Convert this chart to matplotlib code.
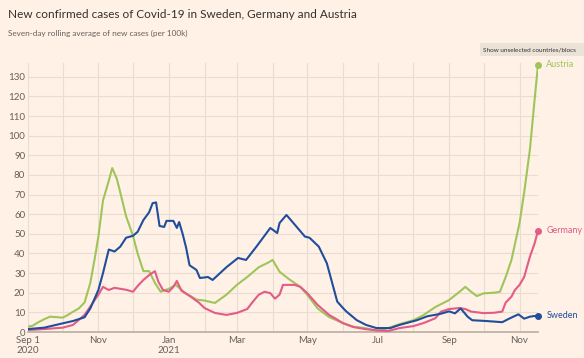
import numpy as np
import pandas as pd
import matplotlib
matplotlib.use("Agg")
import matplotlib.pyplot as plt
import matplotlib.dates as mdates
from matplotlib.patches import Rectangle

plt.rcParams['font.family'] = ['Lato', 'DejaVu Sans']

# Austria - seven-day average per 100k
austria_dates = ['2020-09-01', '2020-09-05', '2020-09-10', '2020-09-15', '2020-09-20', '2020-09-25',
                 '2020-10-01', '2020-10-05', '2020-10-10', '2020-10-15', '2020-10-20', '2020-10-25',
                 '2020-10-29', '2020-11-01', '2020-11-05', '2020-11-10', '2020-11-13', '2020-11-17',
                 '2020-11-20', '2020-11-25', '2020-12-01', '2020-12-05', '2020-12-10', '2020-12-15',
                 '2020-12-20', '2020-12-25', '2021-01-01', '2021-01-07', '2021-01-15', '2021-01-25',
                 '2021-02-01', '2021-02-10', '2021-02-20', '2021-03-01', '2021-03-10', '2021-03-20',
                 '2021-03-28', '2021-04-01', '2021-04-07', '2021-04-15', '2021-04-25', '2021-05-01',
                 '2021-05-10', '2021-05-20', '2021-06-01', '2021-06-10', '2021-06-20', '2021-07-01',
                 '2021-07-10', '2021-07-20', '2021-08-01', '2021-08-10', '2021-08-20', '2021-09-01',
                 '2021-09-10', '2021-09-15', '2021-09-20', '2021-09-25', '2021-10-01', '2021-10-10',
                 '2021-10-15', '2021-10-20', '2021-10-25', '2021-11-01', '2021-11-05', '2021-11-10',
                 '2021-11-14', '2021-11-17']
austria_vals = [2.7, 3.2, 5, 6.5, 7.8, 7.6,
                7.3, 8.5, 10.3, 12, 15, 25,
                38, 48.6, 67, 77, 83.5, 78,
                71, 59, 49, 40, 31, 31,
                25, 20.5, 22, 24, 20, 16.5,
                16, 14.8, 19, 24, 28, 33,
                35.3, 36.7, 30.7, 27, 23, 19,
                12, 7.6, 4.5, 2.7, 2, 0.5,
                2, 4, 6, 8.7, 12.7, 16.3,
                20.5, 23, 20.5, 18.3, 19.7, 20,
                20.5, 28, 36.7, 55.5, 71, 93,
                118, 136]

# Germany
germany_dates = ['2020-09-01', '2020-09-15', '2020-10-01', '2020-10-10', '2020-10-20', '2020-10-25',
                 '2020-11-01', '2020-11-05', '2020-11-08', '2020-11-10', '2020-11-15', '2020-11-20',
                 '2020-11-25', '2020-12-01', '2020-12-05', '2020-12-10', '2020-12-15', '2020-12-20',
                 '2020-12-23', '2020-12-27', '2021-01-01', '2021-01-05', '2021-01-08', '2021-01-12',
                 '2021-01-20', '2021-01-27', '2021-02-01', '2021-02-10', '2021-02-20', '2021-03-01',
                 '2021-03-10', '2021-03-15', '2021-03-20', '2021-03-25', '2021-03-30', '2021-04-03',
                 '2021-04-07', '2021-04-10', '2021-04-20', '2021-04-25', '2021-05-01', '2021-05-10',
                 '2021-05-20', '2021-05-25', '2021-06-01', '2021-06-10', '2021-06-20', '2021-07-01',
                 '2021-07-10', '2021-07-20', '2021-08-01', '2021-08-10', '2021-08-20', '2021-08-25',
                 '2021-09-01', '2021-09-10', '2021-09-15', '2021-09-20', '2021-10-01', '2021-10-10',
                 '2021-10-17', '2021-10-20', '2021-10-25', '2021-10-28', '2021-11-01', '2021-11-05',
                 '2021-11-10', '2021-11-14', '2021-11-17']
germany_vals = [1, 1.5, 2.2, 3.6, 8.7, 13,
                19, 23, 22, 21.4, 22.5, 22,
                21.5, 20.5, 23.4, 26.5, 29, 31,
                25.6, 21.4, 20.5, 23, 26, 21,
                18, 15, 12.2, 9.7, 8.7, 9.7,
                11.7, 15.5, 19, 20.5, 19.8, 17,
                19, 24, 24, 23, 19.8, 13.8,
                8.7, 7, 4.5, 2.5, 1.5, 0.8,
                0.5, 2, 3, 4.6, 7, 10.4,
                11.7, 12.2, 11.7, 10.4, 9.6, 9.8,
                10.4, 15, 18, 21.4, 24, 28,
                38.4, 45, 51.6]

# Sweden
sweden_dates = ['2020-09-01', '2020-09-15', '2020-10-01', '2020-10-10', '2020-10-20', '2020-10-25',
                '2020-11-01', '2020-11-05', '2020-11-10', '2020-11-15', '2020-11-20', '2020-11-25',
                '2020-12-01', '2020-12-05', '2020-12-10', '2020-12-15', '2020-12-18', '2020-12-21',
                '2020-12-24', '2020-12-28', '2020-12-30', '2021-01-05', '2021-01-08', '2021-01-10',
                '2021-01-13', '2021-01-16', '2021-01-19', '2021-01-25', '2021-01-28', '2021-02-04',
                '2021-02-08', '2021-02-20', '2021-03-02', '2021-03-09', '2021-03-18', '2021-03-30',
                '2021-04-05', '2021-04-07', '2021-04-13', '2021-04-19', '2021-04-29', '2021-05-03',
                '2021-05-11', '2021-05-18', '2021-05-27', '2021-06-01', '2021-06-04', '2021-06-13',
                '2021-06-21', '2021-06-30', '2021-07-12', '2021-07-20', '2021-08-04', '2021-08-13',
                '2021-08-24', '2021-09-01', '2021-09-06', '2021-09-11', '2021-09-17', '2021-09-21',
                '2021-10-03', '2021-10-17', '2021-10-23', '2021-10-31', '2021-11-05', '2021-11-10',
                '2021-11-17']
sweden_vals = [1.5, 2.2, 4.4, 5.6, 7.5, 12,
               21.4, 30, 42, 41, 43.5, 48,
               49, 51, 57, 61, 65.6, 66,
               54, 53.5, 56.6, 56.6, 53, 56,
               50, 43, 34, 31.6, 27.5, 28,
               26.5, 33, 37.7, 36.7, 43.5, 53,
               50.4, 55.5, 59.6, 55.5, 48.6, 48,
               43.5, 35, 15.5, 12.2, 10.4, 6,
               3.6, 2, 2, 3.6, 6, 8,
               9.2, 10.5, 9.5, 12, 7.8, 6,
               5.6, 5, 6.8, 9, 6.8, 7.8,
               8.4]

series = [('Austria', austria_dates, austria_vals, '#9fc55a'),
          ('Germany', germany_dates, germany_vals, '#e35b86'),
          ('Sweden', sweden_dates, sweden_vals, '#1f4e9c')]

tick_dates = ['2020-09-01', '2020-11-01', '2021-01-01', '2021-03-01',
              '2021-05-01', '2021-07-01', '2021-09-01', '2021-11-01']
tick_labels = ['Sep 1\n2020', 'Nov', 'Jan\n2021', 'Mar', 'May', 'Jul', 'Sep', 'Nov']

bg = '#fff1e5'
fig = plt.figure(figsize=(5.84, 3.58), dpi=100, facecolor=bg)
ax = fig.add_axes([28/584, 26/358, 510/584, 269/358], facecolor=bg)

for name, d, v, c in series:
    d = pd.to_datetime(d)
    ax.plot(d, v, color=c, lw=1.5, solid_joinstyle='round', zorder=3)
    ax.plot(d[-1], v[-1], 'o', color=c, ms=4, zorder=4, clip_on=False)
    ax.annotate(name, (d[-1], v[-1]), xytext=(6, 0), textcoords='offset points',
                va='center', ha='left', fontsize=6.5, color=c, annotation_clip=False)

ax.set_xlim(pd.Timestamp('2020-09-01'), pd.Timestamp('2021-11-17'))
ax.set_ylim(0, 137)
ax.set_yticks(np.arange(0, 131, 10))
ax.set_xticks(pd.to_datetime(tick_dates))
ax.set_xticklabels(tick_labels)
ax.xaxis.set_minor_locator(mdates.MonthLocator())

ax.grid(axis='y', color='#e9ddd1', lw=0.8)
ax.grid(axis='x', which='both', color='#e9ddd1', lw=0.8)
ax.set_axisbelow(True)
for s in ['top', 'right', 'left']:
    ax.spines[s].set_visible(False)
ax.spines['bottom'].set_color('#b8ada4')
ax.spines['bottom'].set_linewidth(1.2)
ax.tick_params(axis='both', which='both', length=0, labelsize=7, labelcolor='#66605c')
ax.tick_params(axis='y', pad=2)
ax.tick_params(axis='x', pad=3)
for lbl in ax.get_xticklabels():
    lbl.set_linespacing(1.1)

fig.text(8/584, 1 - 14/358, 'New confirmed cases of Covid-19 in Sweden, Germany and Austria',
         fontsize=8.5, color='#33302e', va='center', ha='left')
fig.text(8/584, 1 - 33/358, 'Seven-day rolling average of new cases (per 100k)',
         fontsize=5.9, color='#66605c', va='center', ha='left')
# button box running off the right edge, as in the original
fig.patches.append(Rectangle((480/584, 1 - 56/358), 104/584, 13/358,
                             transform=fig.transFigure, fc='#ebe2d8', ec='none'))
fig.text(483/584, 1 - 49.5/358, 'Show unselected countries/blocs', fontsize=4.6, color='#33302e',
         va='center', ha='left')

fig.savefig('out.png', dpi=100, facecolor=bg)
